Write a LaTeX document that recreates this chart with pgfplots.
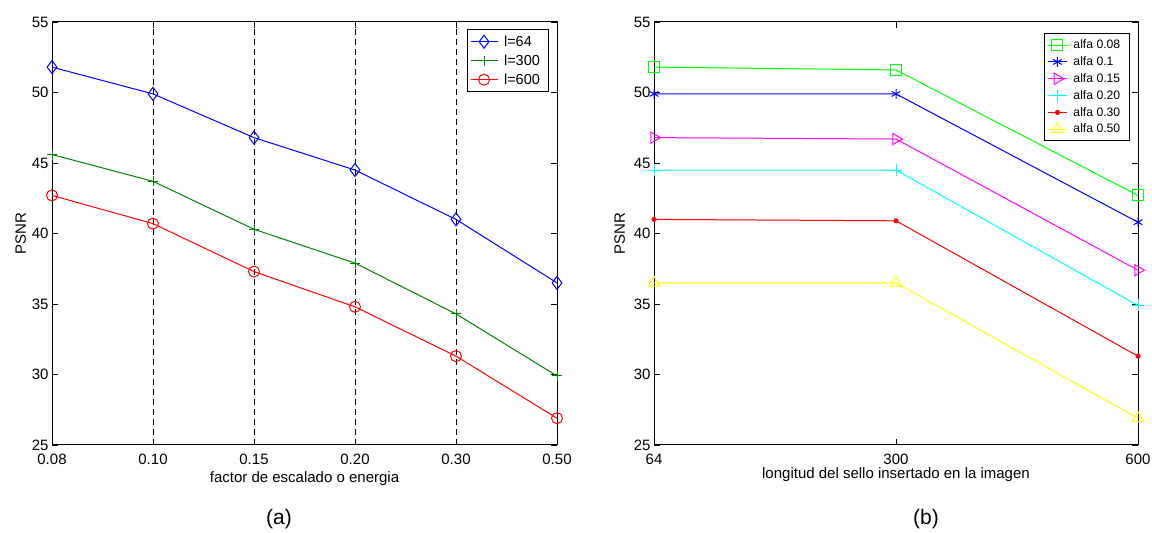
\documentclass[border=0pt]{standalone}
\usepackage{pgfplots}
\pgfplotsset{compat=1.18}
\usepackage{fontspec}
\setmainfont{Liberation Sans}
\definecolor{mgreen}{rgb}{0,0.5,0}
\definecolor{lgreen}{rgb}{0,1,0}
\definecolor{mmag}{rgb}{1,0,1}
\definecolor{mcyan}{rgb}{0,1,1}
\definecolor{myel}{rgb}{1,1,0}
\definecolor{mblue}{rgb}{0,0,1}
\definecolor{mred}{rgb}{1,0,0}
\begin{document}
\begin{tikzpicture}[x=1pt,y=1pt]
\path[use as bounding box] (0,0) rectangle (1152,533);
\pgfplotsset{
  mstyle/.style={
    scale only axis, anchor=south west,
    height=423pt,
    ymin=25, ymax=55, ytick={25,30,...,55},
    tick align=inside, tick pos=both,
    major tick length=6pt,
    axis line style={line width=1pt},
    every tick/.style={black, line width=0.8pt},
    /pgf/number format/assume math mode=true,
    tick label style={font=\fontsize{15}{15}\selectfont},
    xticklabel style={yshift=-5pt},
    label style={font=\fontsize{15}{15}\selectfont},
    every axis plot/.append style={line width=1pt},
    legend cell align=left,
    legend style={draw=black, line width=1pt, anchor=north east, inner xsep=3pt, inner ysep=4pt,
      nodes={inner xsep=6pt}},
  }
}
% ---------------- (a)
\begin{axis}[mstyle,
  at={(52pt,88pt)}, width=505pt,
  xmin=0, xmax=5, xtick={0,1,2,3,4,5},
  xticklabels={0.08,0.10,0.15,0.20,0.30,0.50},
  extra x ticks={1,2,3,4}, extra x tick labels={},
  extra x tick style={grid=major, major tick length=0pt},
  major grid style={black, line width=0.8pt, dash pattern=on 6pt off 4pt},
  xlabel={factor de escalado o energia},
  xlabel style={at={(axis description cs:0.5,0)}, anchor=center, yshift=-34pt},
  ylabel={PSNR}, ylabel style={yshift=-1pt},
  legend image code/.code={\draw[mark repeat=2,mark phase=2] plot coordinates {(0pt,0pt) (13.5pt,0pt) (27pt,0pt)};},
  legend style={at={(0.985,0.983)}, font=\fontsize{14.5}{19.5}\selectfont, row sep=3pt},
]
\addplot[mblue, mark=diamond, mark size=6.5pt, mark options={solid, fill=none}]
  coordinates {(0,51.8) (1,49.9) (2,46.8) (3,44.5) (4,41.0) (5,36.5)};
\addlegendentry{l=64}
\addplot[mgreen, mark=+, mark size=5pt]
  coordinates {(0,45.6) (1,43.7) (2,40.3) (3,37.9) (4,34.3) (5,29.9)};
\addlegendentry{l=300}
\addplot[mred, mark=o, mark size=5.5pt]
  coordinates {(0,42.7) (1,40.7) (2,37.3) (3,34.8) (4,31.3) (5,26.9)};
\addlegendentry{l=600}
\end{axis}
% ---------------- (b)
\begin{axis}[mstyle,
  at={(654pt,88pt)}, width=484pt,
  xmin=0, xmax=2, xtick={0,1,2},
  xticklabels={64,300,600},
  xlabel={longitud del sello insertado en la imagen},
  xlabel style={at={(axis description cs:0.5,0)}, anchor=center, yshift=-30pt},
  ylabel={PSNR}, ylabel style={yshift=2pt},
  legend image code/.code={\draw[mark repeat=2,mark phase=2] plot coordinates {(0pt,0pt) (9.5pt,0pt) (19pt,0pt)};},
  legend style={at={(0.983,0.973)}, font=\fontsize{12.2}{16.6}\selectfont, row sep=2.5pt},
]
\addplot[lgreen, mark=square, mark size=5.5pt]
  coordinates {(0,51.8) (1,51.6) (2,42.7)};
\addlegendentry{alfa 0.08}
\addplot[mblue, mark=asterisk, mark size=5pt]
  coordinates {(0,49.9) (1,49.9) (2,40.8)};
\addlegendentry{alfa 0.1}
\addplot[mmag, mark=triangle, mark size=6.5pt, mark options={rotate=-90}]
  coordinates {(0,46.8) (1,46.7) (2,37.4)};
\addlegendentry{alfa 0.15}
\addplot[mcyan, mark=+, mark size=6pt]
  coordinates {(0,44.5) (1,44.5) (2,34.9)};
\addlegendentry{alfa 0.20}
\addplot[mred, mark=*, mark size=2pt]
  coordinates {(0,41.0) (1,40.9) (2,31.3)};
\addlegendentry{alfa 0.30}
\addplot[myel, mark=triangle, mark size=6.5pt]
  coordinates {(0,36.5) (1,36.5) (2,26.9)};
\addlegendentry{alfa 0.50}
\end{axis}
\node[font=\fontsize{21}{21}\selectfont] at (279,14) {(a)};
\node[font=\fontsize{21}{21}\selectfont] at (926,14) {(b)};
\end{tikzpicture}
\end{document}
